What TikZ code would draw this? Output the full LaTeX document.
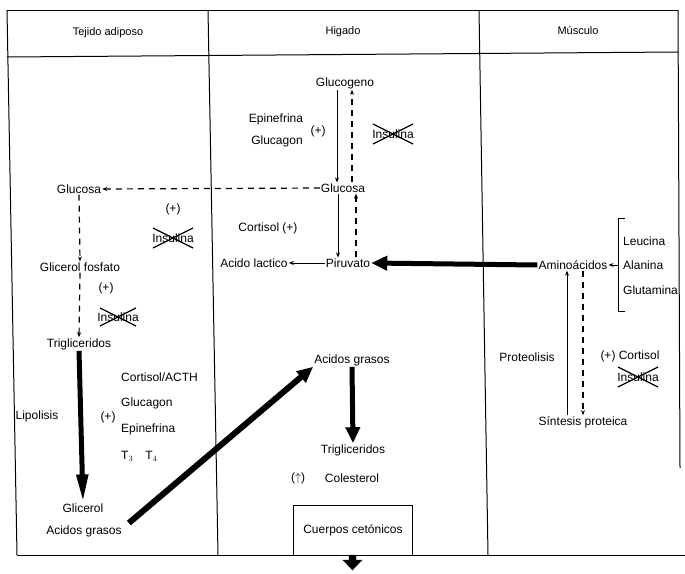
\documentclass[tikz,border=0pt]{standalone}
\usepackage{fontspec}
\setmainfont{Liberation Sans}
\usetikzlibrary{arrows.meta}
\begin{document}
\begin{tikzpicture}[x=1pt,y=-1pt,
  lbl/.style={font=\fontsize{12}{14}\selectfont, inner sep=1pt},
  hdr/.style={font=\fontsize{11}{13}\selectfont, inner sep=1pt},
  thinarrow/.style={line width=1pt,-{Stealth[length=5pt,width=4pt]}},
  dasharrow/.style={line width=1.2pt,dash pattern=on 6pt off 5pt,-{Stealth[length=5pt,width=4pt]}},
  thickarrow/.style={line width=5pt,-{Triangle[length=16pt,width=14pt]}},
  frame/.style={line width=1pt},
  xmark/.style={line width=1.3pt}]
\useasboundingbox (0,0) rectangle (685,573);

% frame
\draw[frame] (7,10) -- (678,10);
\draw[frame] (7,57) -- (678,52);
\draw[frame] (17,555) -- (685,555);
\draw[frame] (7,10) -- (17,555);
\draw[frame] (208,10) -- (218,555);
\draw[frame] (479,10) -- (488,555);
\draw[frame] (678,10) -- (680,468);

% headers
\node[hdr] (hTej) at (108,33) {Tejido adiposo};
\node[hdr] (hHig) at (343,32) {Higado};
\node[hdr] (hMus) at (578,31) {Músculo};

% Higado
\node[lbl] (glucogeno) at (345,83) {Glucogeno};
\node[lbl] (epin) at (276,119) {Epinefrina};
\node[lbl] (glucag) at (277,141) {Glucagon};
\node[lbl] (plusA) at (318,131) {(+)};
\node[lbl] (insA) at (393,134) {Insulina};
\draw[xmark] ([shift={(-20,-10)}]insA.center) -- ([shift={(20,10)}]insA.center);
\draw[xmark] ([shift={(-20,10)}]insA.center) -- ([shift={(20,-10)}]insA.center);
\node[lbl] (glucosaH) at (343,188) {Glucosa};
\node[lbl] (cortA) at (268,228) {Cortisol (+)};
\node[lbl] (lact) at (254,263) {Acido lactico};
\node[lbl] (piruv) at (348,263) {Piruvato};
\node[lbl] (agH) at (352,360) {Acidos grasos};
\node[lbl] (trigH) at (353,450) {Trigliceridos};
\node[lbl] (colup) at (298,478) {($\uparrow$)};
\node[lbl] (colest) at (352,478) {Colesterol};
\node[lbl, draw, line width=1pt, minimum width=119pt, minimum height=50pt, inner sep=0pt] (cuerpos) at (353,530) {Cuerpos cetónicos};

\draw[thinarrow] ([xshift=-8pt]glucogeno.south) -- ([xshift=-8pt]glucogeno.south |- glucosaH.north);
\draw[dasharrow] ([xshift=9pt]glucosaH.north) -- ([xshift=9pt]glucosaH.north |- glucogeno.south);
\draw[thinarrow] ([xshift=-5pt]glucosaH.south) -- ([xshift=-5pt]glucosaH.south |- piruv.north);
\draw[dasharrow] ([xshift=13pt]glucosaH.south |- piruv.north) -- ([xshift=13pt]glucosaH.south);
\draw[thinarrow] (piruv.west) -- (lact.east);
\draw[thickarrow] (agH.south) -- (trigH.north);
\filldraw (349,555) -- (356,555) -- (356,560) -- (362,560) -- (352.5,570) -- (343,560) -- (349,560) -- cycle;

% Tejido adiposo
\node[lbl] (glucosaT) at (79,189) {Glucosa};
\node[lbl] (plusB) at (173,209) {(+)};
\node[lbl] (insB) at (173,238) {Insulina};
\draw[xmark] ([shift={(-20,-10)}]insB.center) -- ([shift={(20,10)}]insB.center);
\draw[xmark] ([shift={(-20,10)}]insB.center) -- ([shift={(20,-10)}]insB.center);
\node[lbl] (glicf) at (80,267) {Glicerol fosfato};
\node[lbl] (plusC) at (106,288) {(+)};
\node[lbl] (insC) at (118,317) {Insulina};
\draw[xmark] ([shift={(-18,-9)}]insC.center) -- ([shift={(18,9)}]insC.center);
\draw[xmark] ([shift={(-18,9)}]insC.center) -- ([shift={(18,-9)}]insC.center);
\node[lbl] (trigT) at (79,344) {Trigliceridos};
\node[lbl] (lipol) at (37,416) {Lipolisis};
\node[lbl] (plusD) at (108,417) {(+)};
\node[lbl, anchor=west] (cortACTH) at (120,377) {Cortisol/ACTH};
\node[lbl, anchor=west] (glucagT) at (120,403) {Glucagon};
\node[lbl, anchor=west] (epinT) at (120,429) {Epinefrina};
\node[lbl, anchor=west] (t34) at (120,456) {T$_3$\quad T$_4$};
\node[lbl] (glicerol) at (83,508) {Glicerol};
\node[lbl] (agT) at (84,531) {Acidos grasos};

\draw[dasharrow] (glucosaH.west) -- (glucosaT.east);
\draw[dasharrow] (glucosaT.south) -- (glicf.north);
\draw[dasharrow] (glicf.south) -- (trigT.north);
\draw[line width=5pt,-{Triangle[length=28pt,width=11pt]}] (trigT.south) -- (glicerol.north);
\draw[thickarrow, line width=6pt] ([shift={(6,-8)}]agT.east) -- (agH.south west);

% Musculo
\node[lbl] (amino) at (573,265) {Aminoácidos};
\node[lbl, anchor=west] (leuc) at (622,241) {Leucina};
\node[lbl, anchor=west] (alan) at (622,265) {Alanina};
\node[lbl, anchor=west] (glut) at (622,290) {Glutamina};
\draw[line width=1pt] (625,218) -- (618,218) -- (618,311) -- (625,311);
\coordinate (brk) at (618,265);
\draw[thinarrow] (brk) -- (amino.east);
\draw[thickarrow] (amino.west) -- (piruv.east);
\node[lbl] (proteol) at (527,357) {Proteolisis};
\node[lbl] (cortM) at (630,356) {(+) Cortisol};
\node[lbl] (insM) at (638,377) {Insulina};
\draw[xmark] ([shift={(-20,-10)}]insM.center) -- ([shift={(20,10)}]insM.center);
\draw[xmark] ([shift={(-20,10)}]insM.center) -- ([shift={(20,-10)}]insM.center);
\node[lbl] (sintesis) at (583,422) {Síntesis proteica};
\draw[thinarrow] ([xshift=-16pt]sintesis.north) -- ([xshift=-16pt]sintesis.north |- amino.south);
\draw[dasharrow] ([xshift=10pt]amino.south) -- ([xshift=10pt]amino.south |- sintesis.north);
\end{tikzpicture}
\end{document}
